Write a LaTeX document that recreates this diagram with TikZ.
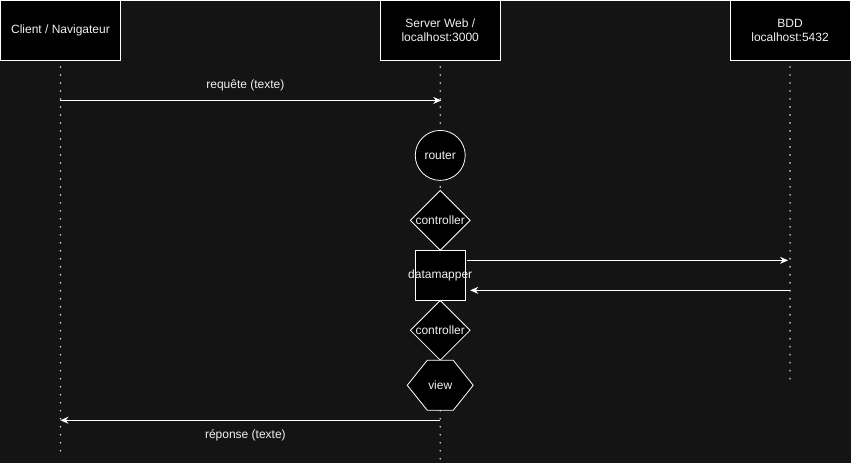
\documentclass[tikz,border=0pt]{standalone}
\usepackage{fontspec}
\setmainfont{Liberation Sans}
\usetikzlibrary{arrows.meta,shapes.geometric}
\definecolor{bg}{HTML}{141414}
\definecolor{txt}{HTML}{F0F0F0}
\begin{document}
\begin{tikzpicture}[x=1pt,y=-1pt,
  font=\fontsize{12}{14}\selectfont,
  box/.style={draw=white, fill=black, text=txt, line width=1pt, minimum width=120pt, minimum height=60pt, inner sep=0pt, align=center},
  life/.style={draw=white!85!black, line width=1.8pt, dash pattern=on 0pt off 8pt, line cap=round},
  msg/.style={draw=white, line width=1pt, -{Stealth[length=8pt,width=7pt]}},
  lbl/.style={text=txt, inner sep=0pt},
  shp/.style={draw=white, fill=black, line width=0.8pt},
  shptxt/.style={text=txt, inner sep=0pt}
]
\fill[bg] (0,0) rectangle (851,463);
% heads
\node[box] (client) at (60,30) {Client / Navigateur};
\node[box] (server) at (440,30) {Server Web /\\localhost:3000};
\node[box] (bdd) at (790,30) {BDD\\localhost:5432};
% lifeline ends
\coordinate (cend) at (60,455);
\coordinate (send) at (440,462);
\coordinate (bend) at (790,380);
\draw[life] ([yshift=-6pt]client.south) -- (cend);
\draw[life] ([yshift=-6pt]server.south) -- (send);
\draw[life] ([yshift=-6pt]bdd.south) -- (bend);
% shapes on server lifeline
\node[shp, circle, minimum size=50pt, inner sep=0pt] (router) at (440,155) {};
\node[shptxt] at (router) {router};
\node[shp, diamond, minimum width=60pt, minimum height=60pt, inner sep=0pt] (ctrl1) at (440,220) {};
\node[shptxt] at (ctrl1) {controller};
\node[shp, draw=white, minimum width=50pt, minimum height=50pt, inner sep=0pt] (dm) at (440,275) {};
\node[shptxt] at (dm) {datamapper};
\node[shp, diamond, minimum width=60pt, minimum height=60pt, inner sep=0pt] (ctrl2) at (440,330) {};
\node[shptxt] at (ctrl2) {controller};
\draw[shp] (407,385) -- (427,360) -- (453,360) -- (473,385) -- (453,410) -- (427,410) -- cycle;
\node[shptxt] (view) at (440,385) {view};
% messages
\coordinate (c1) at (60,100);
\coordinate (s1) at (441,100);
\draw[msg] (c1) -- (s1);
\node[lbl] (req) at (245,85) {requête (texte)};
\coordinate (d1) at (467,260);
\coordinate (b1) at (788,260);
\draw[msg] (d1) -- (b1);
\coordinate (b2) at (790,290);
\coordinate (d2) at (470,290);
\draw[msg] (b2) -- (d2);
\coordinate (s2) at (440,420);
\coordinate (c2) at (60,420);
\draw[msg] (s2) -- (c2);
\node[lbl] (rep) at (245,435) {réponse (texte)};
\end{tikzpicture}
\end{document}
